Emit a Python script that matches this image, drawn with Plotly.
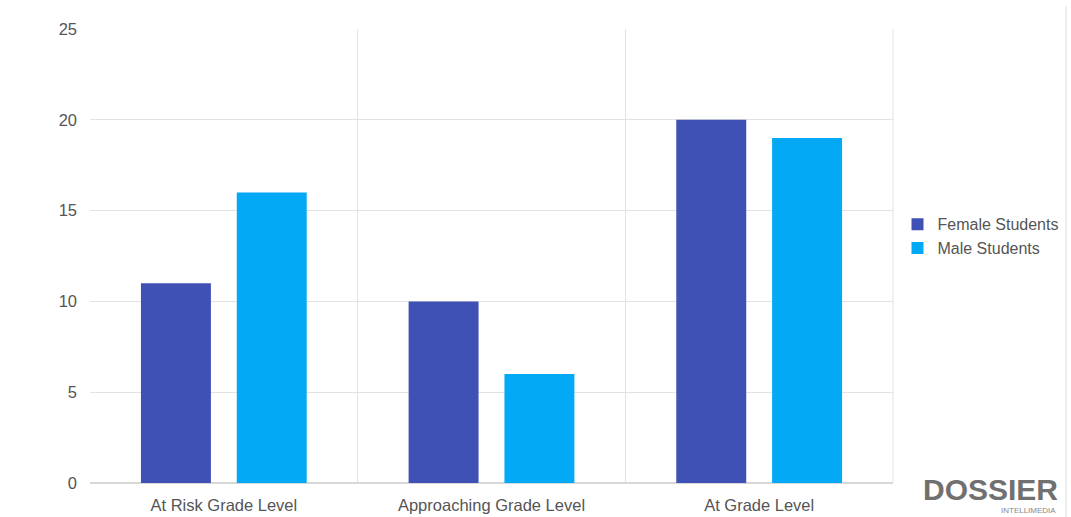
import plotly.graph_objects as go

categories = ["At Risk Grade Level", "Approaching Grade Level", "At Grade Level"]
female_students = [11, 10, 20]
male_students = [16, 6, 19]
y_ticks = [0, 5, 10, 15, 20, 25]

fig = go.Figure()
fig.add_trace(go.Bar(x=categories, y=female_students, name="Female Students",
                     marker=dict(color="#3F51B5", line=dict(width=0))))
fig.add_trace(go.Bar(x=categories, y=male_students, name="Male Students",
                     marker=dict(color="#03A9F4", line=dict(width=0))))

fig.update_layout(
    width=1071, height=517,
    margin=dict(l=90, r=178, t=29, b=34),
    paper_bgcolor="white", plot_bgcolor="white",
    barmode="group", bargap=0.284, bargroupgap=0.27,
    font=dict(family="Liberation Sans, Arial, sans-serif", size=16, color="#555555"),
    legend=dict(xref="container", yref="container", x=0.838, y=0.543,
                xanchor="left", yanchor="middle",
                font=dict(size=16, color="#555555"), itemwidth=30,
                tracegroupgap=0),
    showlegend=True,
)
fig.update_xaxes(type="category", tickson="boundaries", showgrid=True,
                 gridcolor="#e3e3e3", gridwidth=1, ticks="", showline=False,
                 ticklabelstandoff=10, automargin=False,
                 tickfont=dict(size=16.5, color="#555555"))
fig.update_yaxes(range=[0, 25], tickvals=y_ticks, showgrid=True,
                 gridcolor="#e3e3e3", gridwidth=1, zeroline=True,
                 zerolinecolor="#d8d8d8", ticks="", ticklabelstandoff=12,
                 automargin=False,
                 tickfont=dict(size=16.5, color="#555555"))

fig.add_shape(type="line", xref="paper", yref="paper", x0=1, x1=1, y0=0, y1=1,
              line=dict(color="#e3e3e3", width=1))
fig.add_shape(type="line", xref="paper", yref="paper", x0=1.2155, x1=1.2155,
              y0=-0.08, y1=1.05, line=dict(color="#eeeeee", width=2))

fig.add_annotation(xref="paper", yref="paper", x=1.208, y=-0.055,
                   xanchor="right", yanchor="bottom", showarrow=False,
                   text="<b>DOSSIER</b>",
                   font=dict(size=30, color="#707070", family="Liberation Sans, Arial"))
fig.add_annotation(xref="paper", yref="paper", x=1.206, y=-0.075,
                   xanchor="right", yanchor="bottom", showarrow=False,
                   text="INTELLIMEDIA",
                   font=dict(size=8, color="#888888", family="Liberation Sans, Arial"))

fig.write_html("out.html")
